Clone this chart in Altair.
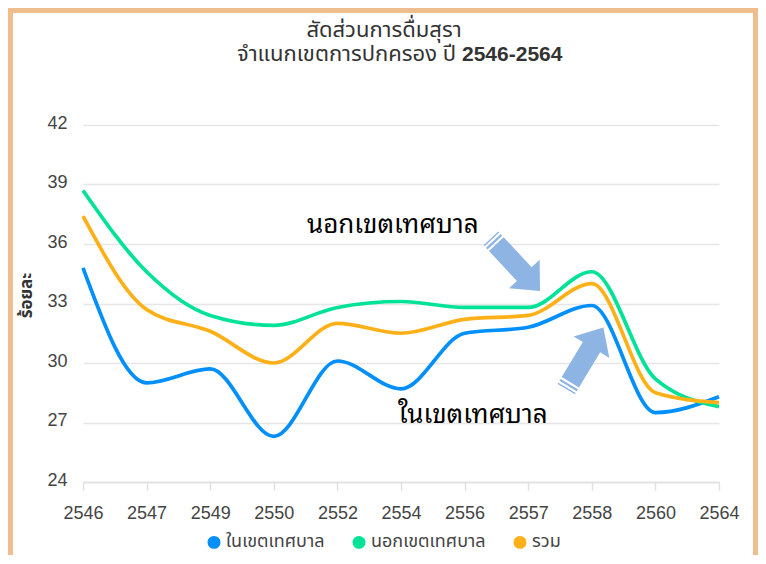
import altair as alt
import pandas as pd

# ---------------- data ----------------
years = ["2546", "2547", "2549", "2550", "2552", "2554", "2556", "2557", "2558", "2560", "2564"]
series_names = ["ในเขตเทศบาล", "นอกเขตเทศบาล", "รวม"]
in_muni = [34.8, 29.0, 29.7, 26.3, 30.1, 28.7, 31.5, 31.8, 32.9, 27.5, 28.3]
out_muni = [38.7, 34.6, 32.4, 31.9, 32.8, 33.1, 32.8, 32.8, 34.6, 29.2, 27.8]
total = [37.4, 32.7, 31.6, 30.0, 32.0, 31.5, 32.2, 32.4, 34.0, 28.5, 28.0]
colors = ["#008FFB", "#00E396", "#FEB019"]
y_ticks = [24, 27, 30, 33, 36, 39, 42]

title_line1 = "สัดส่วนการดื่มสุรา"
title_line2_text = "จำแนกเขตการปกครอง ปี"
title_line2_years = "2546-2564"
y_title = "ร้อยละ"

annot_labels = ["นอกเขตเทศบาล", "ในเขตเทศบาล"]
annot_x = [4.87, 6.13]
annot_y = [36.55, 26.96]
arrow_x = [6.80, 7.89]
arrow_y = [34.96, 30.24]
arrow_angle = [47, 301]

THAI_FONT = "Tahoma, 'Noto Sans Thai', 'Noto Sans', sans-serif"
LOOPED_FONT = "'Noto Sans Thai Looped', Waree, Garuda, Loma, Laksaman, 'Noto Serif Thai', Tahoma, sans-serif"
NUM_FONT = "Liberation Sans, Arial, sans-serif"
W, H = 636, 357
PAD = {"left": 75, "top": 117, "right": 39, "bottom": 73}

rows = []
for name, vals in zip(series_names, [in_muni, out_muni, total]):
    for i, v in enumerate(vals):
        rows.append({"idx": i, "series": name, "value": v})
df = pd.DataFrame(rows)

annot_df = pd.DataFrame({"idx": annot_x, "value": annot_y, "label": annot_labels})
arrow_df = pd.DataFrame({"idx": arrow_x, "value": arrow_y, "angle": arrow_angle})

label_expr = "[" + ",".join("'%s'" % y for y in years) + "][datum.value]"

x_enc = alt.X(
    "idx:Q",
    scale=alt.Scale(domain=[0, len(years) - 1], nice=False, zero=False),
    axis=alt.Axis(
        values=list(range(len(years))), labelExpr=label_expr, title=None,
        grid=False, domain=True, domainColor="#e0e0e0", domainWidth=1.5,
        ticks=True, tickColor="#e0e0e0", tickSize=8, tickWidth=1.5,
        labelFontSize=18, labelColor="#444444", labelPadding=14, labelFont=NUM_FONT,
        labelFlush=False, labelOverlap=False,
    ),
)
y_enc = alt.Y(
    "value:Q",
    scale=alt.Scale(domain=[24, 42], nice=False, zero=False),
    axis=alt.Axis(
        values=y_ticks, title=y_title, grid=True, gridColor="#e6e6e6", gridWidth=1.5,
        domain=False, ticks=False, tickSize=0, labelPadding=16, labelOffset=-2,
        labelFontSize=18, labelColor="#444444", labelFont=NUM_FONT,
        titleX=-57, titleY=170, titleAngle=270, titleAlign="center", titleBaseline="middle",
        titleFontSize=17, titleFontWeight="bold", titleColor="#333333", titleFont=THAI_FONT,
    ),
)
color_scale = alt.Scale(domain=series_names, range=colors)

lines = alt.Chart(df).mark_line(interpolate="monotone", strokeWidth=3.7).encode(
    x=x_enc, y=y_enc,
    color=alt.Color(
        "series:N", scale=color_scale,
        legend=alt.Legend(
            orient="none", legendX=122, legendY=408, direction="horizontal", title=None,
            symbolType="circle", symbolSize=42, symbolStrokeWidth=6.5,
            labelFontSize=18, labelColor="#444444", labelFont=THAI_FONT,
            columnPadding=17, labelOffset=3, padding=0,
        ),
    ),
)

arrow_path = (
    "M-0.78,-0.28 L0.36,-0.28 L0.36,-0.58 L1,0 L0.36,0.58 L0.36,0.28 L-0.78,0.28 Z "
    "M-0.9,-0.28 L-0.84,-0.28 L-0.84,0.28 L-0.9,0.28 Z "
    "M-1,-0.28 L-0.96,-0.28 L-0.96,0.28 L-1,0.28 Z"
)
arrows = alt.Chart(arrow_df).mark_point(
    shape=arrow_path, filled=True, opacity=1, color="#8EB4E3", size=5184, strokeWidth=0
).encode(x="idx:Q", y="value:Q", angle=alt.Angle("angle:Q", scale=None))

annots = alt.Chart(annot_df).mark_text(
    fontSize=26, color="#000000", align="center", baseline="alphabetic", font=LOOPED_FONT
).encode(x="idx:Q", y="value:Q", text="label:N")

one = alt.Data(values=[{}])
t1 = alt.Chart(one).mark_text(
    text=title_line1, fontSize=22, color="#333333", align="center", baseline="alphabetic", font=THAI_FONT
).encode(x=alt.value(301), y=alt.value(-88))
t2a = alt.Chart(one).mark_text(
    text=title_line2_text, fontSize=22, color="#333333", align="right", baseline="alphabetic", font=THAI_FONT
).encode(x=alt.value(373), y=alt.value(-64))
t2b = alt.Chart(one).mark_text(
    text=title_line2_years, fontSize=21, fontWeight="bold", color="#333333", align="left",
    baseline="alphabetic", font=NUM_FONT
).encode(x=alt.value(379), y=alt.value(-64))

frame = alt.Chart(one).mark_rect(
    fillOpacity=0, stroke="#F0BE8E", strokeWidth=10
).encode(
    x=alt.value(-PAD["left"]), x2=alt.value(W + PAD["right"]),
    y=alt.value(-PAD["top"]), y2=alt.value(H + 300),
)

chart = alt.layer(lines, arrows, annots, t1, t2a, t2b, frame).properties(
    width=W, height=H,
    autosize=alt.AutoSizeParams(type="none"),
    padding=PAD,
    background="white",
).configure_view(stroke=None)

chart.save("out.html", embed_options={"renderer": "svg", "actions": False})
